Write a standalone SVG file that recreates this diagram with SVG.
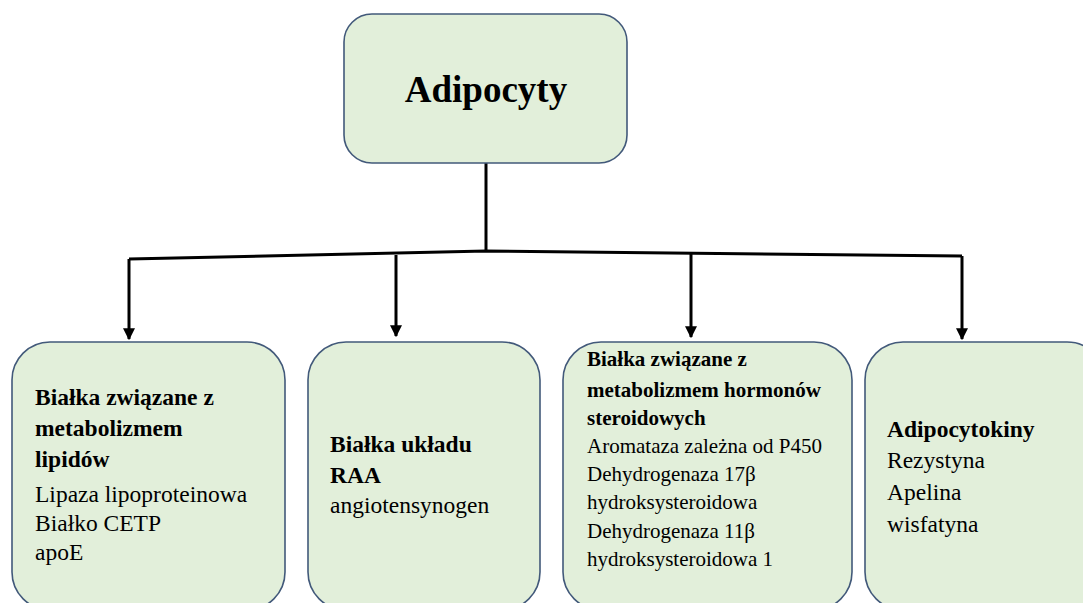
<svg xmlns="http://www.w3.org/2000/svg" width="1083" height="603" viewBox="0 0 1083 603">
<style>
.box{fill:#e2efda;stroke:#42597a;stroke-width:1.6}
.t{font-family:"Liberation Serif","Times New Roman",serif;fill:#000}
.b{font-weight:bold}
.con{fill:none;stroke:#000;stroke-width:3}
</style>
<defs>
<marker id="ah" viewBox="0 0 10 10" refX="9" refY="5" markerWidth="4" markerHeight="4" orient="auto" markerUnits="strokeWidth">
<path d="M0,0 L10,5 L0,10 z" fill="#000"/>
</marker>
</defs>
<rect width="1083" height="603" fill="#fff"/>
<g id="connectors">
<line class="con" x1="486" y1="163" x2="486" y2="252"/>
<polyline class="con" points="129,259 486,251 962,256"/>
<line class="con" x1="129" y1="259" x2="129" y2="339" marker-end="url(#ah)"/>
<line class="con" x1="396" y1="255" x2="396" y2="336" marker-end="url(#ah)"/>
<line class="con" x1="691" y1="253" x2="691" y2="337" marker-end="url(#ah)"/>
<line class="con" x1="962" y1="256" x2="962" y2="339" marker-end="url(#ah)"/>
</g>
<g id="n0">
<rect class="box" x="344" y="14" width="283" height="149" rx="28"/>
<text class="t b" x="486" y="102" font-size="37" text-anchor="middle">Adipocyty</text>
</g>
<g id="n1">
<rect class="box" x="12" y="342" width="273" height="268" rx="38"/>
<text class="t" font-size="23.5">
<tspan class="b" x="35" y="405">Białka związane z</tspan>
<tspan class="b" x="35" y="436">metabolizmem</tspan>
<tspan class="b" x="35" y="467">lipidów</tspan>
<tspan x="35" y="502">Lipaza lipoproteinowa</tspan>
<tspan x="35" y="531">Białko CETP</tspan>
<tspan x="35" y="560">apoE</tspan>
</text>
</g>
<g id="n2">
<rect class="box" x="308" y="342" width="232" height="268" rx="38"/>
<text class="t" font-size="23.5">
<tspan class="b" x="330" y="452">Białka układu</tspan>
<tspan class="b" x="330" y="483">RAA</tspan>
<tspan x="330" y="513">angiotensynogen</tspan>
</text>
</g>
<g id="n3">
<rect class="box" x="563" y="342" width="289" height="268" rx="38"/>
<text class="t" font-size="21">
<tspan class="b" x="587" y="366">Białka związane z</tspan>
<tspan class="b" x="587" y="397">metabolizmem hormonów</tspan>
<tspan class="b" x="587" y="425">steroidowych</tspan>
<tspan x="587" y="453">Aromataza zależna od P450</tspan>
<tspan x="587" y="481">Dehydrogenaza 17β</tspan>
<tspan x="587" y="509">hydroksysteroidowa</tspan>
<tspan x="587" y="538">Dehydrogenaza 11β</tspan>
<tspan x="587" y="566">hydroksysteroidowa 1</tspan>
</text>
</g>
<g id="n4">
<rect class="box" x="865" y="342" width="240" height="268" rx="38"/>
<text class="t" font-size="23.5">
<tspan class="b" x="887" y="437">Adipocytokiny</tspan>
<tspan x="887" y="468">Rezystyna</tspan>
<tspan x="887" y="500">Apelina</tspan>
<tspan x="887" y="532">wisfatyna</tspan>
</text>
</g>
</svg>
